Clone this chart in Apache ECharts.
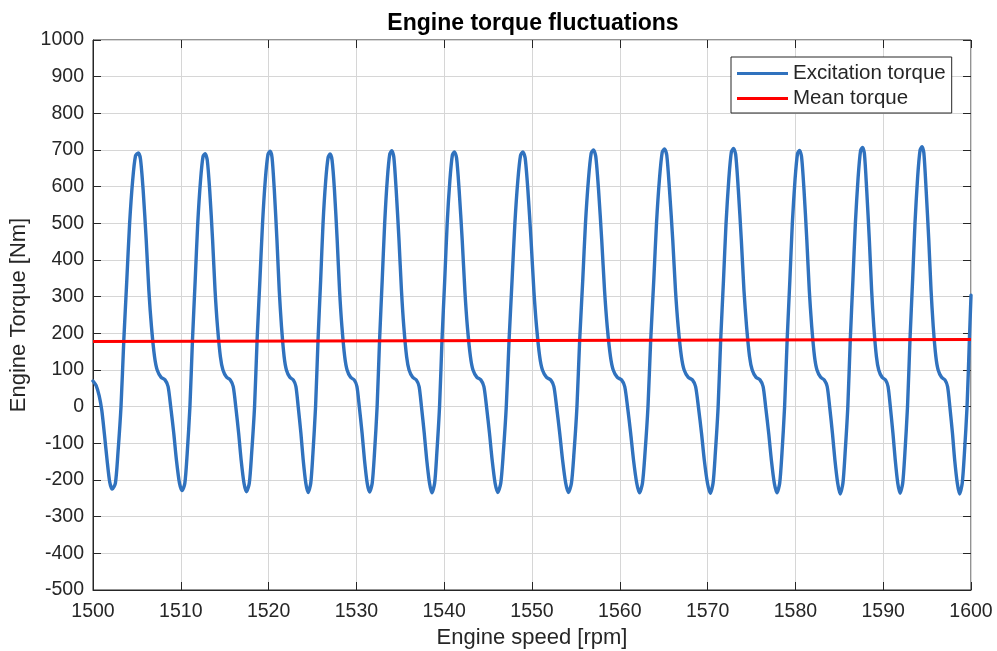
<!DOCTYPE html>
<html>
<head>
<meta charset="utf-8">
<script src="https://cdn.jsdelivr.net/npm/echarts@6/dist/echarts.min.js"></script>
<style>
  html, body { margin: 0; padding: 0; background: #ffffff; }
  #chart { width: 997px; height: 651px; }
</style>
</head>
<body>
<div id="chart"></div>
<script>
// Engine speed samples [rpm] and the matching excitation torque [Nm], one cycle per line
const speedRpm = [
  1500, 1500.35, 1500.7, 1501.0, 1501.3, 1501.6, 1501.9,
  1502.2, 1502.55, 1502.84, 1503.19, 1503.51, 1503.85, 1504.17, 1504.52, 1504.84, 1505.16, 1505.41, 1505.71, 1506.06, 1506.36, 1506.66, 1507.01, 1507.31, 1507.76, 1508.2, 1508.55, 1508.85, 1509.2, 1509.5, 1509.85,
  1510.15, 1510.46, 1510.73, 1511.04, 1511.33, 1511.64, 1511.93, 1512.25, 1512.53, 1512.77, 1513.01, 1513.29, 1513.62, 1513.9, 1514.18, 1514.51, 1514.8, 1515.22, 1515.64, 1515.97, 1516.26, 1516.59, 1516.87, 1517.2,
  1517.48, 1517.8, 1518.07, 1518.4, 1518.69, 1519.01, 1519.31, 1519.63, 1519.93, 1520.17, 1520.39, 1520.65, 1520.95, 1521.21, 1521.47, 1521.77, 1522.03, 1522.42, 1522.81, 1523.11, 1523.37, 1523.68, 1523.94, 1524.24,
  1524.5, 1524.8, 1525.05, 1525.35, 1525.63, 1525.93, 1526.2, 1526.5, 1526.78, 1527.0, 1527.23, 1527.5, 1527.81, 1528.08, 1528.35, 1528.67, 1528.94, 1529.34, 1529.75, 1530.06, 1530.33, 1530.65, 1530.92, 1531.23,
  1531.5, 1531.8, 1532.06, 1532.36, 1532.64, 1532.94, 1533.22, 1533.52, 1533.8, 1534.03, 1534.26, 1534.53, 1534.85, 1535.13, 1535.4, 1535.72, 1536.0, 1536.41, 1536.82, 1537.14, 1537.41, 1537.73, 1538.01, 1538.33,
  1538.6, 1538.91, 1539.16, 1539.47, 1539.75, 1540.06, 1540.34, 1540.65, 1540.93, 1541.16, 1541.41, 1541.7, 1542.05, 1542.35, 1542.64, 1542.99, 1543.28, 1543.73, 1544.17, 1544.52, 1544.82, 1545.16, 1545.46, 1545.8,
  1546.1, 1546.44, 1546.73, 1547.07, 1547.39, 1547.73, 1548.05, 1548.39, 1548.7, 1548.96, 1549.22, 1549.53, 1549.89, 1550.21, 1550.52, 1550.88, 1551.19, 1551.66, 1552.13, 1552.49, 1552.8, 1553.16, 1553.48, 1553.84,
  1554.15, 1554.49, 1554.78, 1555.12, 1555.43, 1555.78, 1556.09, 1556.43, 1556.74, 1557.0, 1557.26, 1557.58, 1557.94, 1558.26, 1558.57, 1558.94, 1559.25, 1559.72, 1560.2, 1560.56, 1560.88, 1561.24, 1561.56, 1561.93,
  1562.24, 1562.58, 1562.87, 1563.21, 1563.52, 1563.87, 1564.18, 1564.52, 1564.83, 1565.09, 1565.35, 1565.66, 1566.03, 1566.34, 1566.65, 1567.02, 1567.33, 1567.8, 1568.27, 1568.63, 1568.95, 1569.31, 1569.62, 1569.99,
  1570.3, 1570.62, 1570.88, 1571.2, 1571.49, 1571.81, 1572.1, 1572.42, 1572.71, 1572.95, 1573.2, 1573.5, 1573.84, 1574.14, 1574.44, 1574.78, 1575.08, 1575.52, 1575.97, 1576.32, 1576.61, 1576.96, 1577.26, 1577.6,
  1577.9, 1578.21, 1578.47, 1578.77, 1579.06, 1579.37, 1579.65, 1579.96, 1580.24, 1580.47, 1580.7, 1580.98, 1581.3, 1581.58, 1581.86, 1582.18, 1582.46, 1582.88, 1583.29, 1583.62, 1583.9, 1584.22, 1584.5, 1584.82,
  1585.1, 1585.41, 1585.66, 1585.97, 1586.25, 1586.55, 1586.83, 1587.14, 1587.42, 1587.65, 1587.86, 1588.12, 1588.42, 1588.68, 1588.93, 1589.23, 1589.49, 1589.87, 1590.26, 1590.55, 1590.81, 1591.11, 1591.37, 1591.66,
  1591.92, 1592.22, 1592.47, 1592.77, 1593.05, 1593.35, 1593.62, 1593.92, 1594.2, 1594.42, 1594.63, 1594.89, 1595.19, 1595.45, 1595.7, 1596.0, 1596.26, 1596.65, 1597.03, 1597.33, 1597.59, 1597.89, 1598.14, 1598.44,
  1598.7, 1599.0, 1599.25, 1599.55, 1599.8, 1600
];

const excitationTorque = [
  70, 58, 30, -10, -75, -145, -205,
  -225, -209, -127, 0, 182, 345, 500, 618, 684, 692, 675, 591, 455, 318, 218, 136, 100, 80, 73, 55, 0, -73, -145, -209,
  -229, -209, -127, 0, 182, 345, 500, 618, 682, 690, 673, 591, 455, 318, 218, 136, 100, 80, 73, 55, 0, -73, -145, -209,
  -232, -209, -127, 0, 182, 345, 500, 620, 688, 697, 680, 591, 455, 318, 218, 136, 100, 80, 73, 55, 0, -73, -145, -209,
  -234, -209, -127, 0, 182, 345, 500, 615, 680, 689, 672, 591, 455, 318, 218, 136, 100, 80, 73, 55, 0, -73, -145, -209,
  -233, -209, -127, 0, 182, 345, 500, 620, 689, 698, 681, 591, 455, 318, 218, 136, 100, 80, 73, 55, 0, -73, -145, -209,
  -235, -209, -127, 0, 182, 345, 500, 618, 686, 695, 678, 591, 455, 318, 218, 136, 100, 80, 73, 55, 0, -73, -145, -209,
  -234, -209, -127, 0, 182, 345, 500, 618, 686, 695, 678, 591, 455, 318, 218, 136, 100, 80, 73, 55, 0, -73, -145, -209,
  -234, -209, -127, 0, 182, 345, 500, 620, 691, 700, 683, 591, 455, 318, 218, 136, 100, 80, 73, 55, 0, -73, -145, -209,
  -235, -209, -127, 0, 182, 345, 500, 622, 694, 703, 686, 591, 455, 318, 218, 136, 100, 80, 73, 55, 0, -73, -145, -209,
  -236, -209, -127, 0, 182, 345, 500, 622, 695, 704, 687, 591, 455, 318, 218, 136, 100, 80, 73, 55, 0, -73, -145, -209,
  -235, -209, -127, 0, 182, 345, 500, 620, 690, 699, 682, 591, 455, 318, 218, 136, 100, 80, 73, 55, 0, -73, -145, -209,
  -238, -209, -127, 0, 182, 345, 500, 624, 698, 707, 690, 591, 455, 318, 218, 136, 100, 80, 73, 55, 0, -73, -145, -209,
  -236, -209, -127, 0, 182, 345, 500, 625, 700, 709, 692, 591, 455, 318, 218, 136, 100, 80, 73, 55, 0, -73, -145, -209,
  -238, -209, -127, 0, 170, 304
];

// Mean torque over the speed sweep
const meanSpeedRpm = [1500, 1600];
const meanTorque = [178, 183];

// Axis ranges
const speedRange = { min: 1500, max: 1600, step: 10 };
const torqueRange = { min: -500, max: 1000, step: 100 };

const textColor = '#262626';
const fontFamily = '"Liberation Sans", Arial, Helvetica, sans-serif';

const zip = (xs, ys) => xs.map((x, i) => [x, ys[i]]);
const plain = (v) => String(v);

const chart = echarts.init(document.getElementById('chart'), null, { renderer: 'canvas' });

// Tick-only axes for the top and right edges of the box
const tickAxisCommon = {
  axisLine: { show: false, onZero: false },
  axisTick: { show: true, inside: true, length: 8, lineStyle: { color: textColor, width: 1 } },
  splitLine: { show: false },
  axisLabel: { show: false }
};

chart.setOption({
  animation: false,
  backgroundColor: '#ffffff',
  title: {
    text: 'Engine torque fluctuations',
    left: 533,
    top: 12,
    padding: 0,
    textAlign: 'center',
    textStyle: { fontFamily, fontSize: 23, fontWeight: 'bold', color: '#000000' }
  },
  legend: {
    orient: 'vertical',
    left: 731,
    top: 57,
    padding: [6, 6, 4, 6],
    itemGap: 4,
    itemWidth: 51,
    itemHeight: 3,
    icon: 'rect',
    backgroundColor: '#ffffff',
    borderColor: textColor,
    borderWidth: 1,
    borderRadius: 0,
    textStyle: { fontFamily, fontSize: 20.5, color: textColor, lineHeight: 21 },
    data: ['Excitation torque', 'Mean torque']
  },
  grid: {
    left: 93, right: 26, top: 40, bottom: 61,
    outerBoundsMode: 'none',
    containLabel: false,
    show: true, borderColor: textColor, borderWidth: 1, backgroundColor: 'transparent'
  },
  xAxis: [
    {
      type: 'value',
      min: speedRange.min, max: speedRange.max, interval: speedRange.step,
      name: 'Engine speed [rpm]',
      nameLocation: 'middle',
      nameGap: 37,
      nameTextStyle: { fontFamily, fontSize: 22, color: textColor },
      axisLine: { show: true, onZero: false, lineStyle: { color: textColor, width: 1 } },
      axisTick: { show: true, inside: true, length: 8, lineStyle: { color: textColor, width: 1 } },
      axisLabel: { fontFamily, fontSize: 19.5, color: textColor, margin: 12, formatter: plain },
      splitLine: { show: true, lineStyle: { color: '#d6d6d6', width: 1 } }
    },
    Object.assign({ type: 'value', position: 'top', min: speedRange.min, max: speedRange.max, interval: speedRange.step }, tickAxisCommon)
  ],
  yAxis: [
    {
      type: 'value',
      min: torqueRange.min, max: torqueRange.max, interval: torqueRange.step,
      name: 'Engine Torque [Nm]',
      nameLocation: 'middle',
      nameGap: 58,
      nameTextStyle: { fontFamily, fontSize: 22, color: textColor },
      axisLine: { show: true, onZero: false, lineStyle: { color: textColor, width: 1 } },
      axisTick: { show: true, inside: true, length: 8, lineStyle: { color: textColor, width: 1 } },
      axisLabel: { fontFamily, fontSize: 19.5, color: textColor, margin: 9, formatter: plain },
      splitLine: { show: true, lineStyle: { color: '#d6d6d6', width: 1 } }
    },
    Object.assign({ type: 'value', position: 'right', min: torqueRange.min, max: torqueRange.max, interval: torqueRange.step }, tickAxisCommon)
  ],
  series: [
    {
      name: 'Excitation torque',
      type: 'line',
      data: zip(speedRpm, excitationTorque),
      showSymbol: false,
      symbol: 'none',
      smooth: 0.25,
      color: '#3072be',
      lineStyle: { color: '#3072be', width: 3.4, join: 'round', cap: 'round' },
      z: 2
    },
    {
      name: 'Mean torque',
      type: 'line',
      data: zip(meanSpeedRpm, meanTorque),
      showSymbol: false,
      symbol: 'none',
      color: '#ff0000',
      lineStyle: { color: '#ff0000', width: 3 },
      z: 3
    }
  ]
});
</script>
</body>
</html>
